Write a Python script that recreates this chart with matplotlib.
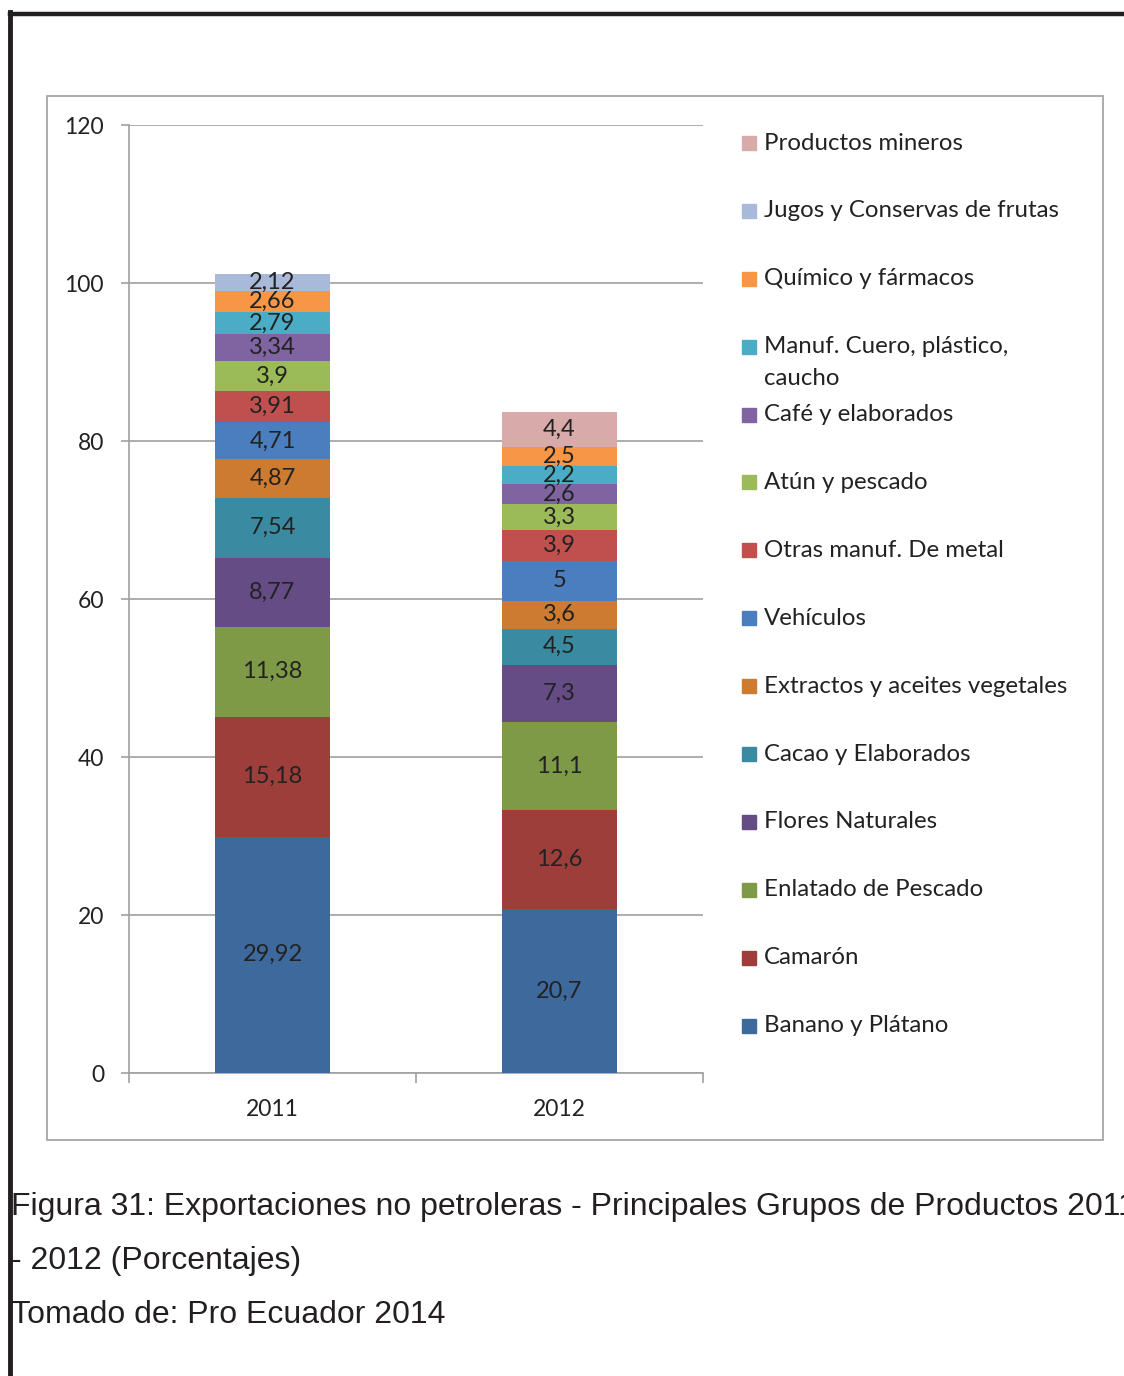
import numpy as np
import matplotlib.pyplot as plt
from matplotlib.patches import Rectangle
from matplotlib.lines import Line2D

# series, stacked from bottom to top
series_names = ["Banano y Plátano", "Camarón", "Enlatado de Pescado", "Flores Naturales",
                "Cacao y Elaborados", "Extractos y aceites vegetales", "Vehículos",
                "Otras manuf. De metal", "Atún y pescado", "Café y elaborados",
                "Manuf. Cuero, plástico,\ncaucho", "Químico y fármacos",
                "Jugos y Conservas de frutas", "Productos mineros"]
series_colors = ["#3E699D", "#9E3E3B", "#7E9A47", "#664C85", "#3A8BA1", "#CD7B31",
                 "#4B7EBF", "#C0504D", "#9BBB59", "#8064A2", "#4BACC6", "#F79646",
                 "#A8B9D9", "#D9AAAA"]
years = ["2011", "2012"]
v2011 = [29.92, 15.18, 11.38, 8.77, 7.54, 4.87, 4.71, 3.91, 3.9, 3.34, 2.79, 2.66, 2.12, np.nan]
v2012 = [20.7, 12.6, 11.1, 7.3, 4.5, 3.6, 5, 3.9, 3.3, 2.6, 2.2, 2.5, np.nan, 4.4]

caption = ["Figura 31: Exportaciones no petroleras - Principales Grupos de Productos 2011",
           "- 2012 (Porcentajes)",
           "Tomado de: Pro Ecuador 2014"]

W, H = 1124, 1376
TXT = "#222222"
GRID = "#A0A0A0"
plt.rcParams['font.family'] = ['Lato', 'DejaVu Sans']


def fx(x):
    return x / W


def fy(y):
    return 1 - y / H


fig = plt.figure(figsize=(W / 100, H / 100), dpi=100)
ax = fig.add_axes([fx(129), fy(1073), 574 / W, 948 / H])

data = np.array([v2011, v2012]).T  # shape (series, years)
x = np.arange(len(years))
bottom = np.zeros(len(years))
for name, color, vals in zip(series_names, series_colors, data):
    h = np.nan_to_num(vals)
    ax.bar(x, h, 0.4, bottom=bottom, color=color, zorder=3)
    for xi, b, v in zip(x, bottom, vals):
        if not np.isnan(v):
            ax.text(xi, b + v / 2, f"{v:g}".replace('.', ','), ha='center', va='center',
                    fontsize=17, color=TXT, zorder=4)
    bottom = bottom + h

ax.set_ylim(0, 120)
ax.set_xlim(-0.5, 1.5)
ax.set_yticks(range(0, 121, 20))
ax.yaxis.grid(True, color=GRID, lw=1.2, zorder=0)
ax.set_axisbelow(True)
for s in ['top', 'right']:
    ax.spines[s].set_visible(False)
for s in ['left', 'bottom']:
    ax.spines[s].set_color(GRID)
    ax.spines[s].set_linewidth(1.2)
ax.tick_params(axis='y', length=6, color=GRID, width=1.2, pad=12, labelsize=16.5, labelcolor=TXT)
ax.set_xticks([-0.5, 0.5, 1.5])
ax.set_xticklabels([])
ax.set_xticks(x, minor=True)
ax.set_xticklabels(years, minor=True)
ax.tick_params(axis='x', which='major', length=7, color=GRID, width=1.2)
ax.tick_params(axis='x', which='minor', length=0, pad=19, labelsize=16.5, labelcolor=TXT)

# legend, drawn top to bottom in reverse stacking order
for i, (name, color) in enumerate(zip(series_names[::-1], series_colors[::-1])):
    yc = 143 + i * 67.9
    fig.add_artist(Rectangle((fx(742), fy(yc + 7)), 14 / W, 14 / H, color=color,
                             transform=fig.transFigure))
    for j, line in enumerate(name.split("\n")):
        fig.text(fx(764), fy(yc + j * 32), line, ha='left', va='center',
                 fontsize=17.3, color=TXT)

# chart frame
fig.add_artist(Rectangle((fx(47), fy(1140)), (1103 - 47) / W, (1140 - 96) / H, fill=False,
                         ec="#A6A6A6", lw=1.3, transform=fig.transFigure))

# caption
for i, line in enumerate(caption):
    fig.text(fx(11), fy(1215 + i * 54), line, ha='left', va='baseline', fontsize=23,
             color="#231F20", family=['Liberation Sans', 'DejaVu Sans'])

# page borders
fig.add_artist(Line2D([fx(10), fx(W)], [fy(14), fy(14)], color="#231F20", lw=3.2,
                      transform=fig.transFigure))
fig.add_artist(Line2D([fx(10), fx(10)], [fy(12), fy(H)], color="#231F20", lw=3.5,
                      transform=fig.transFigure))

fig.savefig("out.png", dpi=100)
